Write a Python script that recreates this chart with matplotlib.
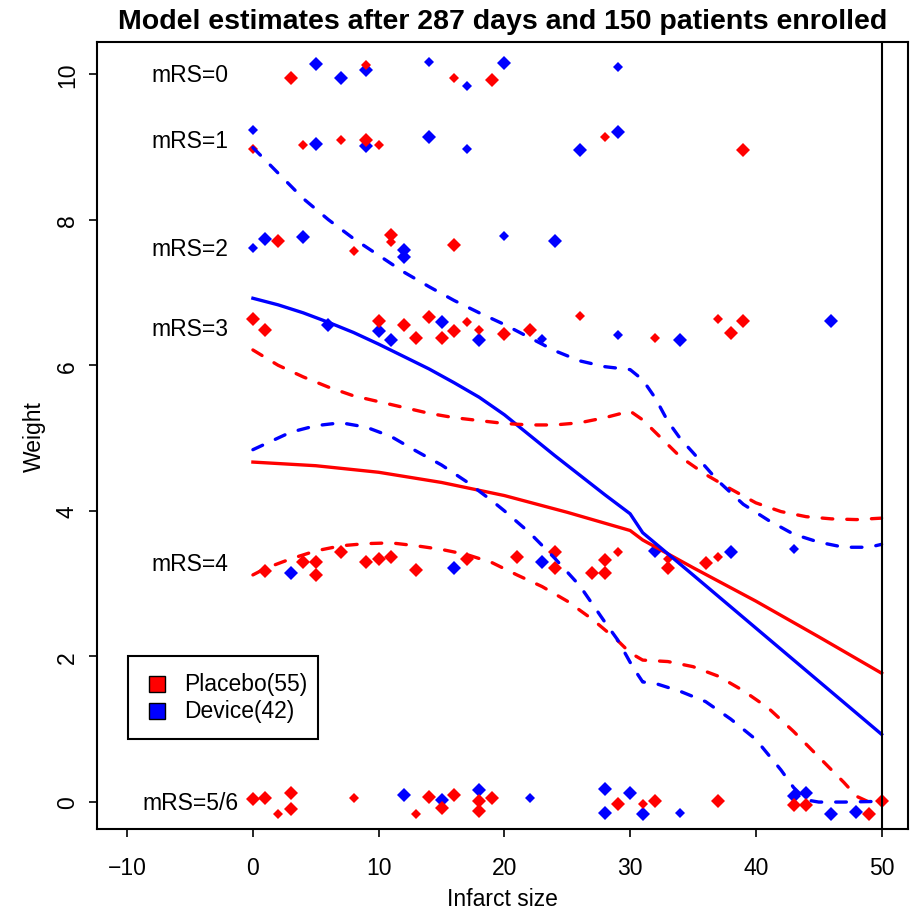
import matplotlib
matplotlib.use("Agg")
import matplotlib.pyplot as plt
from matplotlib.patches import Rectangle

plt.rcParams['font.family'] = ['Liberation Sans', 'DejaVu Sans']

# ---------------- data ----------------
mrs_labels = ["mRS=0", "mRS=1", "mRS=2", "mRS=3", "mRS=4", "mRS=5/6"]
mrs_label_y = [10.0, 9.09, 7.6, 6.5, 3.28, 0.0]

placebo_x = [3, 9, 16, 19,
             0, 4, 7, 9, 10, 28, 39,
             2, 8, 11, 11, 16,
             0, 1, 10, 12, 13, 14, 15, 16, 17, 18, 20, 22, 26, 32, 37, 38, 39,
             1, 4, 5, 5, 7, 9, 10, 11, 13, 17, 21, 24, 24, 27, 28, 28, 29, 33, 33, 36, 37,
             0, 1, 2, 3, 3, 8, 13, 14, 15, 16, 18, 18, 19, 29, 31, 32, 37, 43, 44, 49, 50]
placebo_y = [9.94, 10.13, 9.95, 9.92,
             8.97, 9.02, 9.10, 9.10, 9.03, 9.13, 8.96,
             7.70, 7.57, 7.79, 7.69, 7.65,
             6.64, 6.49, 6.61, 6.55, 6.38, 6.66, 6.37, 6.47, 6.60, 6.48, 6.43, 6.49, 6.67, 6.37, 6.63, 6.44, 6.61,
             3.18, 3.30, 3.30, 3.12, 3.43, 3.30, 3.34, 3.37, 3.19, 3.34, 3.37, 3.44, 3.21, 3.14, 3.33, 3.15, 3.43, 3.34, 3.22, 3.28, 3.37,
             0.04, 0.06, -0.16, 0.13, -0.09, 0.05, -0.17, 0.07, -0.08, 0.10, 0.02, -0.12, 0.06, -0.02, -0.03, 0.02, 0.02, -0.04, -0.04, -0.16, 0.02]
placebo_big = [1, 0, 0, 1,
               0, 0, 0, 1, 0, 0, 1,
               1, 0, 1, 0, 1,
               1, 1, 1, 1, 1, 1, 1, 1, 0, 0, 1, 1, 0, 0, 0, 1, 1,
               1, 1, 1, 1, 1, 1, 1, 1, 1, 1, 1, 1, 1, 1, 1, 1, 0, 0, 1, 1, 0,
               1, 1, 0, 1, 1, 0, 0, 1, 1, 1, 1, 1, 1, 1, 0, 1, 1, 1, 1, 1, 1]

device_x = [5, 7, 9, 14, 17, 20, 29,
            0, 5, 9, 14, 17, 26, 29,
            0, 1, 4, 12, 12, 20, 24,
            6, 10, 11, 15, 18, 23, 29, 34, 46,
            3, 16, 23, 32, 38, 43,
            12, 15, 18, 22, 28, 28, 30, 31, 34, 43, 44, 46, 48]
device_y = [10.14, 9.94, 10.05, 10.17, 9.84, 10.15, 10.09,
            9.23, 9.04, 9.01, 9.13, 8.97, 8.96, 9.21,
            7.61, 7.73, 7.76, 7.58, 7.48, 7.77, 7.71,
            6.55, 6.47, 6.35, 6.59, 6.34, 6.36, 6.41, 6.35, 6.61,
            3.15, 3.21, 3.30, 3.45, 3.43, 3.48,
            0.10, 0.03, 0.16, 0.06, 0.18, -0.15, 0.12, -0.16, -0.15, 0.08, 0.12, -0.17, -0.14]
device_big = [1, 1, 1, 0, 0, 1, 0,
              0, 1, 1, 1, 0, 1, 1,
              0, 1, 1, 1, 1, 0, 1,
              1, 1, 1, 1, 1, 0, 0, 1, 1,
              1, 1, 1, 1, 1, 0,
              1, 1, 1, 0, 1, 1, 1, 1, 0, 1, 1, 1, 1]

# model estimates (solid) and bands (dashed)
placebo_fit_x = [0, 5, 10, 15, 20, 25, 30, 31, 35, 40, 45, 50]
placebo_fit_y = [4.67, 4.62, 4.53, 4.39, 4.21, 3.98, 3.73, 3.60, 3.22, 2.76, 2.27, 1.77]
device_fit_x = [0, 2, 4, 6, 8, 10, 12, 14, 16, 18, 20, 22, 24, 26, 28, 30, 31, 35, 40, 45, 50]
device_fit_y = [6.92, 6.83, 6.72, 6.59, 6.45, 6.29, 6.12, 5.95, 5.76, 5.56, 5.32, 5.04, 4.76, 4.49, 4.22, 3.96, 3.70, 3.12, 2.39, 1.66, 0.93]

placebo_up_x = [0, 2, 4, 6, 8, 10, 12, 14, 16, 18, 20, 22, 24, 26, 28, 30, 31, 32, 34, 36, 38, 40, 42, 44, 46, 48, 50]
placebo_up_y = [6.21, 6.00, 5.84, 5.70, 5.58, 5.50, 5.42, 5.34, 5.28, 5.24, 5.20, 5.18, 5.18, 5.21, 5.28, 5.37, 5.25, 5.08, 4.74, 4.50, 4.30, 4.11, 3.99, 3.92, 3.89, 3.88, 3.90]
placebo_lo_x = [0, 1, 3, 5, 7, 9, 11, 13, 15, 17, 19, 21, 23, 25, 27, 29, 30, 31, 33, 35, 37, 39, 41, 43, 45, 47, 48, 49, 50]
placebo_lo_y = [3.12, 3.21, 3.34, 3.45, 3.52, 3.55, 3.56, 3.52, 3.47, 3.40, 3.29, 3.12, 2.96, 2.76, 2.51, 2.22, 2.05, 1.95, 1.93, 1.86, 1.73, 1.53, 1.29, 0.97, 0.62, 0.27, 0.08, 0.0, 0.0]
device_up_x = [0, 2, 4, 6, 8, 10, 12, 14, 16, 18, 20, 22, 24, 26, 28, 30, 31, 32, 33, 34, 35, 37, 39, 41, 43, 45, 47, 49, 50]
device_up_y = [8.99, 8.64, 8.29, 8.00, 7.74, 7.51, 7.28, 7.08, 6.89, 6.72, 6.56, 6.38, 6.20, 6.06, 5.98, 5.94, 5.80, 5.55, 5.23, 4.99, 4.80, 4.41, 4.09, 3.87, 3.68, 3.57, 3.50, 3.50, 3.54]
device_lo_x = [0, 1, 3, 5, 7, 9, 11, 13, 15, 17, 19, 20, 22, 24, 26, 28, 29, 30, 30.5, 31, 32, 34, 36, 38, 40, 42, 43, 44, 45, 47, 50]
device_lo_y = [4.84, 4.92, 5.08, 5.17, 5.21, 5.15, 5.02, 4.82, 4.63, 4.40, 4.14, 4.00, 3.70, 3.35, 2.97, 2.47, 2.23, 1.92, 1.78, 1.65, 1.63, 1.52, 1.38, 1.14, 0.86, 0.44, 0.20, 0.03, 0.0, 0.0, 0.01]

legend_labels = ["Placebo(55)", "Device(42)"]
legend_colors = ["red", "blue"]
title = "Model estimates after 287 days and 150 patients enrolled"

# ---------------- plot ----------------
W, H = 916, 912
L, R, T, B = 97, 908, 43, 830
fig = plt.figure(figsize=(W/100, H/100), dpi=100)
ax = fig.add_axes([L/W, 1-B/H, (R-L)/W, (B-T)/H])

def ax_frac(px, py):
    return (px - L) / (R - L), (B - py) / (B - T)

big_ms, small_ms = 7.4, 5.0

def draw_points(xs, ys, bigs, color):
    for x, y, b in zip(xs, ys, bigs):
        ax.plot([x], [y], linestyle='none', marker='D', color=color,
                markersize=big_ms if b else small_ms, markeredgewidth=0, zorder=2)

draw_points(device_x, device_y, device_big, 'blue')
draw_points(placebo_x, placebo_y, placebo_big, 'red')

lw = 2.4
dash = (3.2, 4.2)
ax.plot(placebo_fit_x, placebo_fit_y, color='red', lw=lw, zorder=3)
ax.plot(device_fit_x, device_fit_y, color='blue', lw=lw, zorder=3)
for xs, ys, c in [(placebo_up_x, placebo_up_y, 'red'), (placebo_lo_x, placebo_lo_y, 'red'),
                  (device_up_x, device_up_y, 'blue'), (device_lo_x, device_lo_y, 'blue')]:
    ax.plot(xs, ys, color=c, lw=lw, linestyle=(0, dash), dash_capstyle='round', zorder=3)

ax.axvline(50, color='black', lw=1.5, zorder=4)

fs = 16.5
for lab, y in zip(mrs_labels, mrs_label_y):
    ax.text(-5, y, lab, ha='center', va='center', fontsize=fs)

ax.set_xlim(-12.4, 52.1)
ax.set_ylim(-0.37, 10.44)
ax.set_xticks([-10, 0, 10, 20, 30, 40, 50])
ax.set_yticks([0, 2, 4, 6, 8, 10])
ax.tick_params(axis='both', direction='out', length=6, width=1.2, labelsize=fs)
ax.tick_params(axis='x', pad=13.5)
ax.tick_params(axis='y', pad=7)
for lbl in ax.get_yticklabels():
    lbl.set_rotation(90)
    lbl.set_va('center')
for s in ax.spines.values():
    s.set_linewidth(1.5)

ax.set_xlabel("Infarct size", fontsize=fs, labelpad=6)
ax.set_ylabel("Weight", fontsize=fs, labelpad=7)
ax.set_title(title, fontsize=20.5, fontweight='bold', pad=10)

# legend drawn as in R: framed box, filled squares, labels
x0, y0 = ax_frac(128, 740)
x1, y1 = ax_frac(318, 657)
ax.add_patch(Rectangle((x0, y0), x1 - x0, y1 - y0, transform=ax.transAxes,
                       facecolor='white', edgecolor='black', lw=1.5, zorder=5))
for i, (lab, col) in enumerate(zip(legend_labels, legend_colors)):
    py = 685 + i * 26.5
    mx, my = ax_frac(157, py)
    tx, _ = ax_frac(184, py)
    ax.plot([mx], [my], transform=ax.transAxes, marker='s', markersize=12,
            markerfacecolor=col, markeredgecolor='black', markeredgewidth=1.0,
            linestyle='none', zorder=6, clip_on=False)
    ax.text(tx, my, lab, transform=ax.transAxes, ha='left', va='center',
            fontsize=fs, zorder=6)

fig.savefig("out.png", dpi=100)
